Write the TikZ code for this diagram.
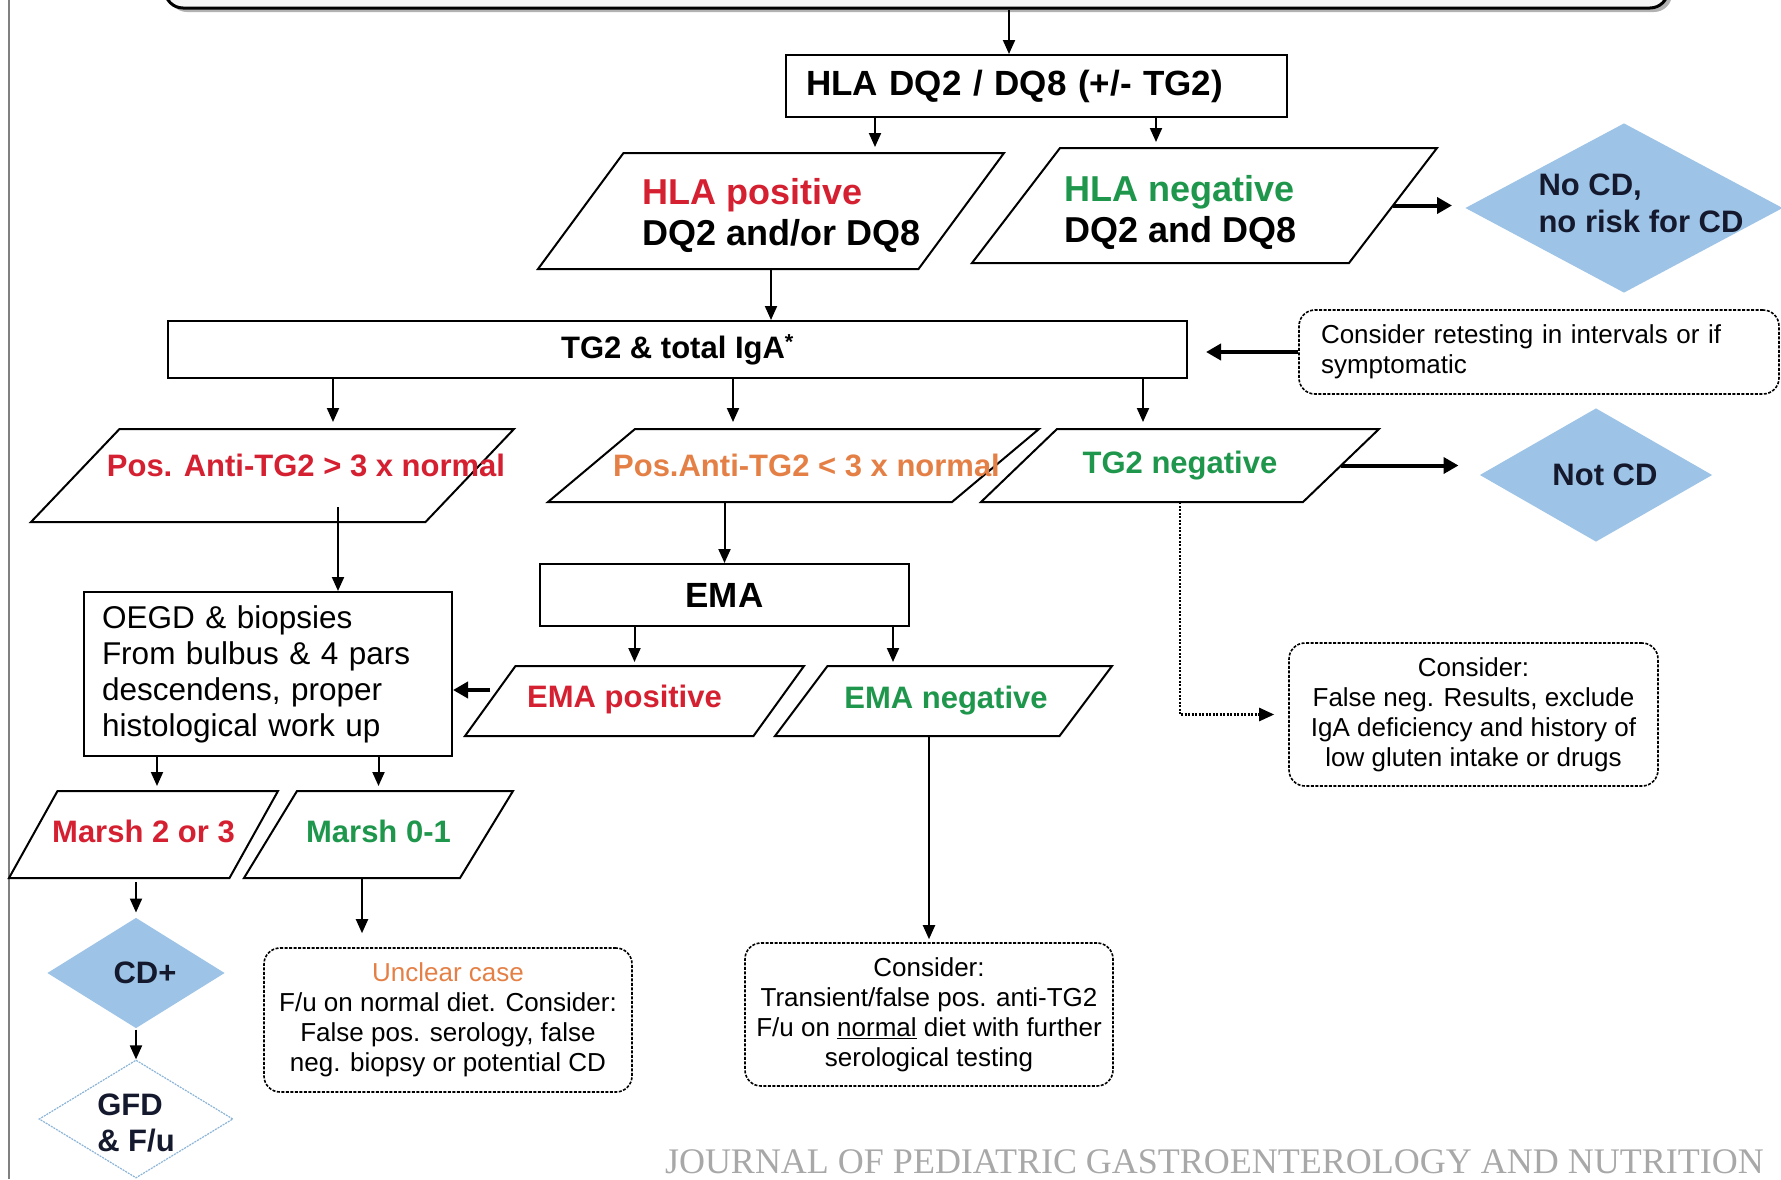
\documentclass[tikz,border=0pt]{standalone}
\usepackage{fontspec}
\setmainfont{Liberation Sans}
\newfontfamily\jnlfont{Liberation Serif}
\usetikzlibrary{shapes.geometric,arrows.meta}

\definecolor{hlared}{RGB}{212,32,48}
\definecolor{hlagreen}{RGB}{30,150,75}
\definecolor{hlaorange}{RGB}{228,128,70}
\definecolor{cdblue}{RGB}{157,195,230}
\definecolor{cdtext}{RGB}{20,25,45}

\newcommand{\hlafont}{\fontsize{36}{41}\selectfont\bfseries}
\newcommand{\lblfont}{\fontsize{31}{37}\selectfont\bfseries}
\newcommand{\oegdfont}{\fontsize{31.5}{36}\selectfont}
\newcommand{\notefont}{\fontsize{26}{30}\selectfont}

\tikzset{
  every picture/.style={line width=2pt},
  arr/.style={-{Triangle[length=14pt,width=12pt]}},
  thickarr/.style={line width=4pt,-{Triangle[length=15pt,width=16pt]}},
  dotarr/.style={line width=2.5pt,dash pattern=on 2pt off 1.5pt,-{Triangle[length=15pt,width=13pt]}},
  box/.style={draw,rectangle,inner sep=0pt,line width=2pt},
  notebox/.style={draw,rectangle,rounded corners=16pt,dash pattern=on 3pt off 1.5pt,line width=1.6pt,inner sep=0pt,align=center,font=\notefont},
  % parallelogram: #1 = half of the slant offset
  para/.style={rectangle,inner sep=0pt,append after command={\pgfextra{
    \draw [line width=2pt] ([xshift=#1]\tikzlastnode.north west) -- ([xshift=#1]\tikzlastnode.north east)
      -- ([xshift=-#1]\tikzlastnode.south east) -- ([xshift=-#1]\tikzlastnode.south west) -- cycle;}}},
  decide/.style={diamond,fill=cdblue,inner sep=0pt},
}

\begin{document}
\begin{tikzpicture}[x=1pt,y=1pt,yscale=-1,xscale=1]
\useasboundingbox (0,0) rectangle (1781,1179);

% left border
\draw [gray,line width=1.5pt] (9,0) -- (9,1179);

% top box (cut off)
\fill [gray!60,rounded corners=18pt] (169,-48) rectangle (1672,12);
\node [draw,rounded corners=18pt,fill=gray!8,line width=3pt,minimum width=1503pt,minimum height=60pt] (topbox) at (916.5,-22) {};

% HLA typing
\node [box,minimum width=501pt,minimum height=62pt,text width=461pt,align=left,font=\fontsize{35}{40}\selectfont\bfseries] (hla) at (1036.5,86) {HLA DQ2 / DQ8 (+/- TG2)};
\node [para=42.75pt,minimum width=378.5pt,minimum height=114pt,
  label={[font=\hlafont,align=left,xshift=11pt,yshift=-4.5pt]center:{\textcolor{hlared}{HLA positive}\\DQ2 and/or DQ8}}] (hlapos) at (771,211) {};
\node [para=44pt,minimum width=375pt,minimum height=113pt,
  label={[font=\hlafont,align=left,xshift=-24pt,yshift=-7pt]center:{\textcolor{hlagreen}{HLA negative}\\DQ2 and DQ8}}] (hlaneg) at (1204.5,205.5) {};
\node [decide,minimum width=318pt,minimum height=170pt,
  label={[font=\lblfont,text=cdtext,align=left,xshift=17pt,yshift=5pt]center:{No CD,\\no risk for CD}}] (nocd) at (1624,208) {};

% TG2 serology
\node [box,minimum width=1019pt,minimum height=57pt,font=\lblfont] (tg2) at (677.5,349.5) {TG2 \& total IgA\textsuperscript{*}};
\node [notebox,minimum width=480pt,minimum height=84pt,text width=436pt,align=left,font=\fontsize{26}{29.5}\selectfont] (retest) at (1539,352) {Consider retesting in intervals or if\\symptomatic};

\node [para=44.25pt,minimum width=392.5pt,minimum height=91pt,
  label={[font=\lblfont,text=hlared,xshift=33.5pt,yshift=10.5pt]center:{Pos. Anti-TG2 > 3 x normal}}] (pos3) at (272.5,475.5) {};
\node [para=43.5pt,minimum width=402pt,minimum height=71pt,
  label={[font=\lblfont,text=hlaorange,xshift=13pt]center:{Pos.Anti-TG2 < 3 x normal}}] (posl3) at (793.5,465.5) {};
\node [para=38pt,minimum width=320pt,minimum height=71pt,
  label={[font=\lblfont,text=hlagreen]center:{TG2 negative}}] (tg2neg) at (1180,465.5) {};
\node [decide,minimum width=233pt,minimum height=134pt,
  label={[font=\lblfont,text=cdtext,xshift=9pt]center:{Not CD}}] (notcd) at (1596,475) {};

% EMA and biopsies
\node [box,minimum width=368pt,minimum height=164pt,text width=332pt,align=left,font=\oegdfont] (oegd) at (268,674) {OEGD \& biopsies\\From bulbus \& 4 pars\\descendens, proper\\histological work up};
\node [box,minimum width=369pt,minimum height=62pt,font=\fontsize{35}{40}\selectfont\bfseries] (ema) at (724.5,595) {EMA};
\node [para=25.25pt,minimum width=286.5pt,minimum height=68pt,
  label={[font=\lblfont,text=hlared,xshift=-10pt,yshift=1.5pt]center:{EMA positive}}] (emapos) at (634.5,701) {};
\node [para=26.25pt,minimum width=282.5pt,minimum height=68pt,
  label={[font=\lblfont,text=hlagreen,xshift=2.5pt]center:{EMA negative}}] (emaneg) at (943.5,701) {};
\node [notebox,minimum width=369pt,minimum height=143pt] (considerright) at (1473.5,714.5) {Consider:\\False neg. Results, exclude\\IgA deficiency and history of\\low gluten intake or drugs};

% histology
\node [para=24.25pt,minimum width=218.5pt,minimum height=85pt,
  label={[font=\lblfont,text=hlared,yshift=3.5pt]center:{Marsh 2 or 3}}] (marsh2) at (143.5,834.5) {};
\node [para=26.5pt,minimum width=214pt,minimum height=85pt,
  label={[font=\lblfont,text=hlagreen,yshift=3.5pt]center:{Marsh 0-1}}] (marsh01) at (378.5,834.5) {};
\node [decide,minimum width=178pt,minimum height=111pt,
  label={[font=\lblfont,text=cdtext,xshift=9pt]center:{CD+}}] (cdplus) at (136,973) {};
\node [diamond,inner sep=0pt,draw={rgb,255:red,140;green,180;blue,215},line width=1.2pt,dash pattern=on 2pt off 1pt,minimum width=194pt,minimum height=118pt,
  label={[font=\fontsize{31}{36}\selectfont\bfseries,text=cdtext,align=left,yshift=-4pt]center:{GFD\\\& F/u}}] (gfd) at (136,1119) {};
\node [notebox,minimum width=368pt,minimum height=144pt] (unclear) at (448,1020) {\textcolor{hlaorange}{Unclear case}\\F/u on normal diet. Consider:\\False pos. serology, false\\neg. biopsy or potential CD};
\node [notebox,minimum width=368pt,minimum height=143pt] (considermid) at (929,1014.5) {Consider:\\Transient/false pos. anti-TG2\\F/u on \underline{normal} diet with further\\serological testing};

% connectors
\draw [arr] (1009,0 |- topbox.south) -- (1009,0 |- hla.north);
\draw [arr,shorten >=6pt] (875,0 |- hla.south) -- (875,0 |- hlapos.north);
\draw [arr,shorten >=6pt] (1156,0 |- hla.south) -- (1156,0 |- hlaneg.north);
\draw [thickarr,shorten >=12pt] (hlaneg.east) -- (hlaneg.east -| nocd.west);
\draw [arr] (hlapos.south) -- (hlapos.south |- tg2.north);
\draw [thickarr,shorten >=18pt] (retest.west) -- (retest.west -| tg2.east);
\foreach \xpos/\target in {333/pos3,733/posl3,1143/tg2neg}
  \draw [arr,shorten >=7pt] (\xpos,0 |- tg2.south) -- (\xpos,0 |- \target.north);
\draw [thickarr,shorten >=20pt] (tg2neg.east) -- (tg2neg.east -| notcd.west);
\coordinate (pos3out) at (338,507);
\draw [arr] (pos3out) -- (pos3out |- oegd.north);
\draw [arr] (ema.north |- posl3.south) -- (ema.north);
\draw [arr,shorten >=4pt] (emapos.center |- ema.south) -- (emapos.center |- emapos.north);
\draw [arr,shorten >=4pt] (893,0 |- ema.south) -- (893,0 |- emaneg.north);
\draw [thickarr] (emapos.west |- 0,690) -- (oegd.east |- 0,690);
\draw [arr,shorten >=3pt] (considermid.north |- emaneg.south) -- (considermid.north);
\draw [dotarr,shorten >=14pt] (tg2neg.center |- tg2neg.south) |- (considerright.west);
\draw [arr,shorten >=5pt] (157,0 |- oegd.south) -- (157,0 |- marsh2.north);
\draw [arr,shorten >=5pt] (marsh01.center |- oegd.south) -- (marsh01.center |- marsh01.north);
\draw [arr,shorten <=4pt,shorten >=4pt] (cdplus.north |- marsh2.south) -- (cdplus.north);
\draw [arr] (cdplus.south) -- (gfd.north);
\draw [arr,shorten >=14pt] (362,0 |- marsh01.south) -- (362,0 |- unclear.north);

% journal mark
\node [anchor=base west,inner sep=0pt,font=\jnlfont\fontsize{36}{40}\selectfont,text={rgb,255:red,168;green,168;blue,168}] (jnl) at (664,1173) {JOURNAL OF PEDIATRIC GASTROENTEROLOGY AND NUTRITION};

\end{tikzpicture}
\end{document}
